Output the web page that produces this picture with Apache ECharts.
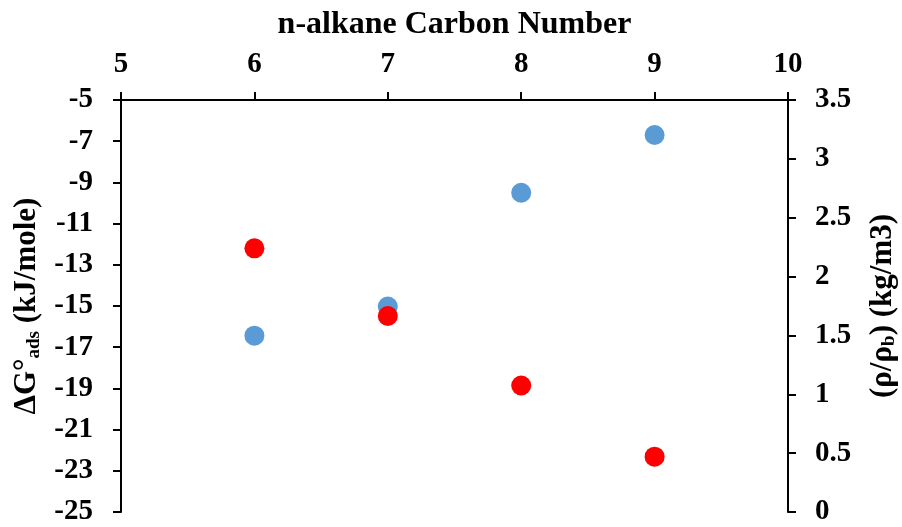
<!DOCTYPE html>
<html>
<head>
<meta charset="utf-8">
<style>
  html, body { margin: 0; padding: 0; background: #fff; overflow: hidden; }
  #chart { width: 902px; height: 527px; }
</style>
<script src="https://cdn.jsdelivr.net/npm/echarts@6/dist/echarts.min.js"></script>
</head>
<body>
<div id="chart"></div>
<script>
// n-alkane carbon numbers
const carbonNumbers = [6, 7, 8, 9];
// Standard free energy of adsorption, kJ/mole (left axis)
const deltaG = [-16.44, -15.03, -9.5, -6.7];
// Density ratio rho/rho_b, kg/m3 (right axis)
const densityRatio = [2.24, 1.665, 1.075, 0.47];

const FONT = '"Liberation Serif", "Times New Roman", serif';
const tickFont = { fontFamily: FONT, fontWeight: 'bold', fontSize: 29, color: '#000' };
const nameFont = { fontFamily: FONT, fontWeight: 'bold', fontSize: 31, color: '#000' };
const subFont = { fontFamily: FONT, fontWeight: 'bold', fontSize: 19, color: '#000', padding: [14, 0, 0, 0] };
const lineStyle = { color: '#000', width: 2 };

const chart = echarts.init(document.getElementById('chart'), null, { renderer: 'canvas' });

chart.setOption({
  animation: false,
  backgroundColor: '#fff',
  grid: {
    left: 121, right: 114, top: 100, bottom: 15,
    containLabel: false,
    outerBoundsMode: 'none'
  },
  xAxis: {
    type: 'value',
    position: 'top',
    min: 5, max: 10, interval: 1,
    name: 'n-alkane Carbon Number',
    nameLocation: 'middle',
    nameGap: 59,
    nameTextStyle: Object.assign({}, nameFont, { fontSize: 32 }),
    axisLine: { show: true, onZero: false, lineStyle },
    axisTick: { show: true, inside: false, length: 8, lineStyle },
    axisLabel: Object.assign({ margin: 21 }, tickFont),
    splitLine: { show: false }
  },
  yAxis: [
    {
      type: 'value',
      position: 'left',
      min: -25, max: -5, interval: 2,
      name: '{n|ΔG°}{s|ads}{n| (kJ/mole)}',
      nameLocation: 'middle',
      nameGap: 70,
      nameTextStyle: Object.assign({}, nameFont, { rich: { n: nameFont, s: subFont } }),
      axisLine: { show: true, onZero: false, lineStyle },
      axisTick: { show: true, inside: false, length: 8, lineStyle },
      axisLabel: Object.assign({ margin: 28 }, tickFont),
      splitLine: { show: false }
    },
    {
      type: 'value',
      position: 'right',
      min: 0, max: 3.5, interval: 0.5,
      name: '{n|(ρ/ρ}{s|b}{n|) (kg/m3)}',
      nameLocation: 'middle',
      nameGap: 78,
      nameTextStyle: Object.assign({}, nameFont, { rich: { n: nameFont, s: subFont } }),
      axisLine: { show: true, onZero: false, lineStyle },
      axisTick: { show: true, inside: false, length: 8, lineStyle },
      axisLabel: Object.assign({ margin: 27 }, tickFont),
      splitLine: { show: false }
    }
  ],
  series: [
    {
      name: 'ΔG°ads',
      type: 'scatter',
      yAxisIndex: 0,
      symbol: 'circle',
      symbolSize: 20,
      itemStyle: { color: '#5B9BD5', opacity: 1 },
      data: carbonNumbers.map((c, i) => [c, deltaG[i]])
    },
    {
      name: 'ρ/ρb',
      type: 'scatter',
      yAxisIndex: 1,
      symbol: 'circle',
      symbolSize: 20,
      itemStyle: { color: '#FF0000', opacity: 1 },
      data: carbonNumbers.map((c, i) => [c, densityRatio[i]])
    }
  ]
});
</script>
</body>
</html>
